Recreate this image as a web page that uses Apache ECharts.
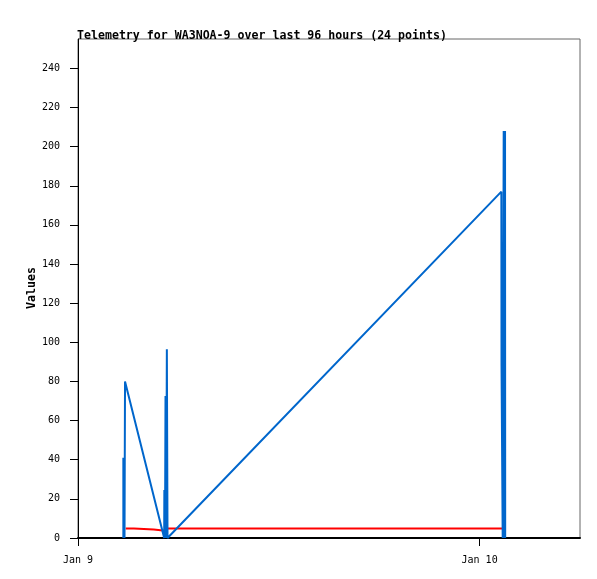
<!DOCTYPE html>
<html>
<head>
<meta charset="utf-8">
<script src="https://cdn.jsdelivr.net/npm/echarts@6/dist/echarts.min.js"></script>
<style>html,body{margin:0;padding:0;background:#fff}#c{width:597px;height:579px}</style>
</head>
<body>
<div id="c"></div>
<script>
// Hours since Jan 9 00:00
var blueHours  = [2.71, 2.71, 2.78, 2.81, 5.15, 5.16, 5.20, 5.23, 5.27, 5.31, 5.35, 25.30, 25.31, 25.38, 25.44, 25.47, 25.52, 25.53];
var blueValues = [0,    41,   0,    80,   0,    24.5, 0,    72.5, 0,    96.5, 0,    177,   88,    0,     208,   0,     208,   0];
var redHours   = [2.85, 3.34, 3.36, 4.53, 4.56, 5.20, 5.25, 25.40];
var redValues  = [4.9,  4.9,  4.3,  4.3,  3.7,  3.7,  4.9,  4.9];
var xTickHours  = [0, 24];
var xTickLabels = ['Jan 9', 'Jan 10'];
var yTicks = [0, 20, 40, 60, 80, 100, 120, 140, 160, 180, 200, 220, 240];
var titleText = 'Telemetry for WA3NOA-9 over last 96 hours (24 points)';
var yName = 'Values';

function pairs(h, v) { return h.map(function (x, i) { return [x, v[i]]; }); }
var mono = 'DejaVu Sans Mono';

var chart = echarts.init(document.getElementById('c'), null, { renderer: 'canvas' });
chart.setOption({
  animation: false,
  backgroundColor: '#fff',
  title: {
    text: titleText, left: 72, top: 25,
    textStyle: { fontFamily: mono, fontSize: 11.6, fontWeight: 'bold', color: '#000' }
  },
  graphic: [{
    type: 'text', x: 32, y: 288, rotation: Math.PI / 2,
    style: { text: yName, fontFamily: mono, fontSize: 11.6, fontWeight: 'bold', fill: '#000',
             align: 'center', verticalAlign: 'middle' }
  }],
  grid: { left: 78, top: 39, width: 502, height: 499, show: true, borderColor: '#666', borderWidth: 1, backgroundColor: 'transparent' },
  xAxis: {
    type: 'value', min: 0, max: 30,
    axisLine: { show: true, onZero: false, lineStyle: { color: '#000', width: 2 } },
    axisTick: { show: true, length: 8, customValues: xTickHours, lineStyle: { color: '#000' } },
    axisLabel: {
      customValues: xTickHours, margin: 17, fontFamily: mono, fontSize: 10, color: '#000',
      formatter: function (v) { var i = xTickHours.indexOf(v); return i >= 0 ? xTickLabels[i] : ''; }
    },
    splitLine: { show: false }
  },
  yAxis: {
    type: 'value', min: 0, max: 255,
    axisLine: { show: true, lineStyle: { color: '#000', width: 1 } },
    axisTick: { show: true, length: 8, customValues: yTicks, lineStyle: { color: '#000' } },
    axisLabel: { customValues: yTicks, margin: 18, fontFamily: mono, fontSize: 10, color: '#000' },
    splitLine: { show: false }
  },
  series: [
    { type: 'line', data: pairs(redHours, redValues), showSymbol: false, symbol: 'none',
      lineStyle: { color: '#ff0000', width: 2 }, z: 2 },
    { type: 'line', data: pairs(blueHours, blueValues), showSymbol: false, symbol: 'none',
      lineStyle: { color: '#0066cc', width: 2 }, z: 3 }
  ]
});
</script>
</body>
</html>
